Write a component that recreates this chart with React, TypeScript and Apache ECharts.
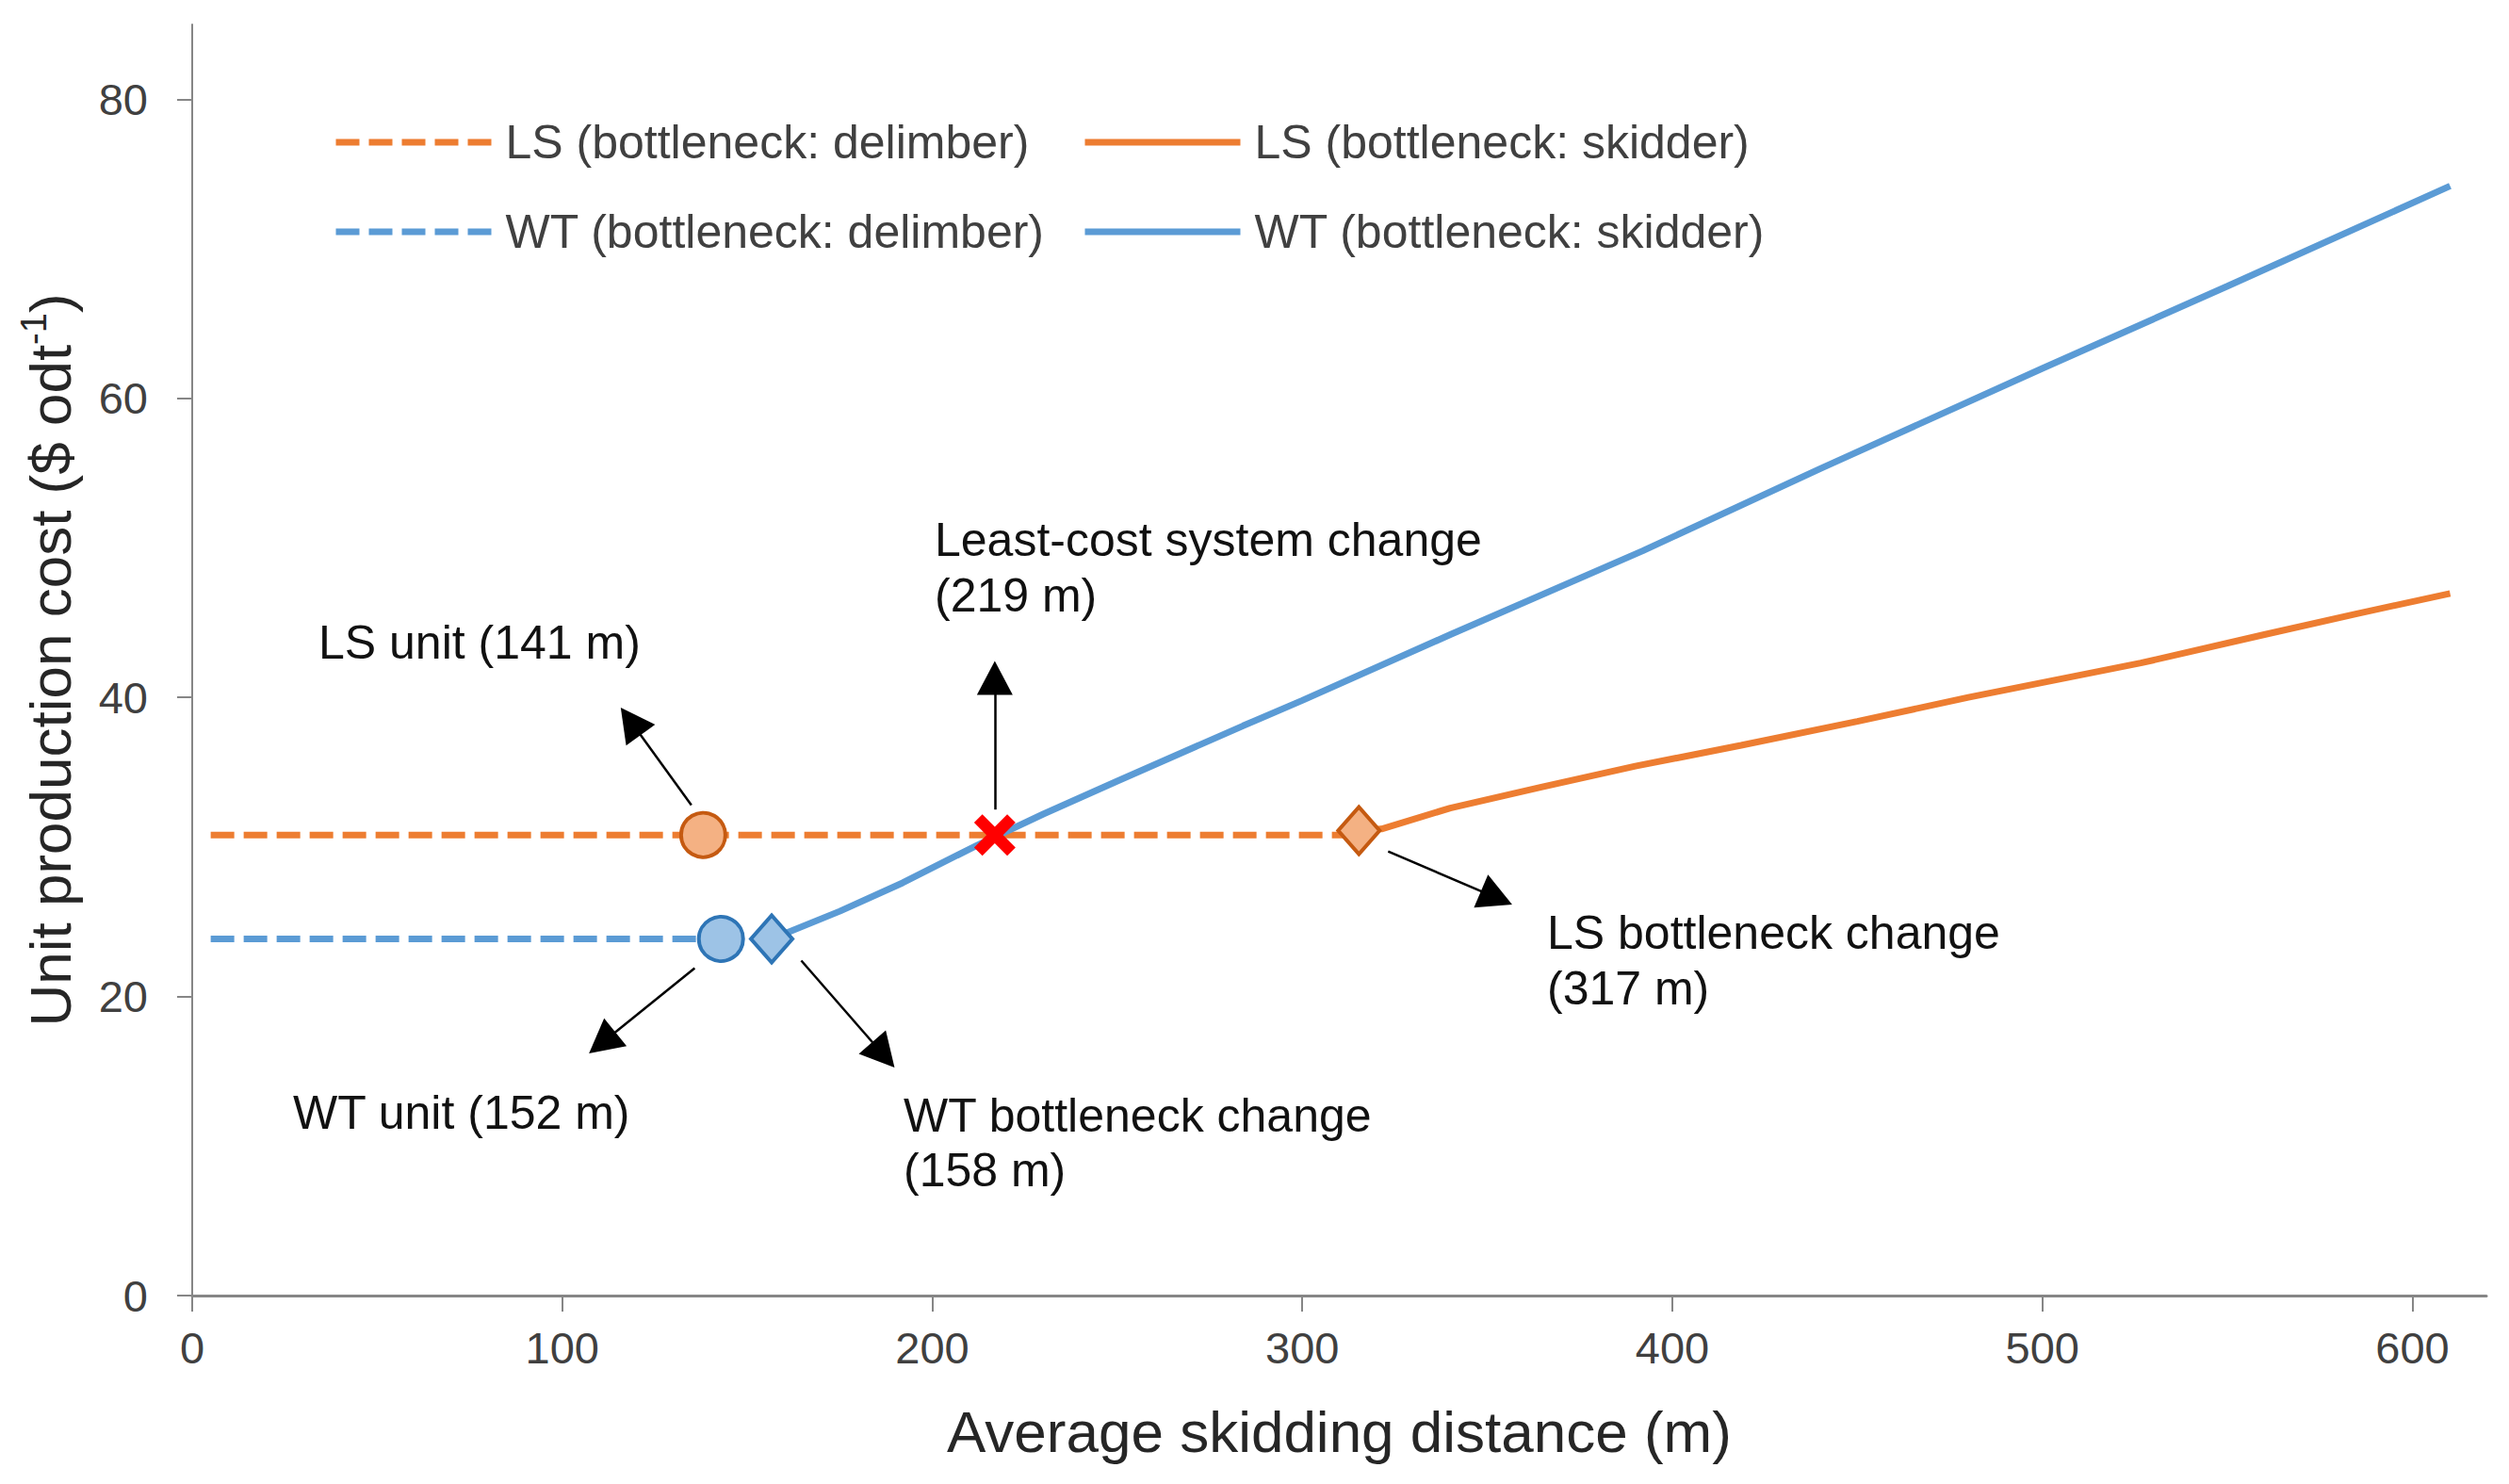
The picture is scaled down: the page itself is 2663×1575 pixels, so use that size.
import React, { useEffect, useRef } from "react";
import * as echarts from "echarts";

const FONT = "'Liberation Sans', Arial, sans-serif";

const xTicks = [0, 100, 200, 300, 400, 500, 600];
const yTicks = [0, 20, 40, 60, 80];

const seriesNames = [
  "LS (bottleneck: delimber)",
  "LS (bottleneck: skidder)",
  "WT (bottleneck: delimber)",
  "WT (bottleneck: skidder)",
];

const lsDelimber = [
  [5, 30.8],
  [315.3, 30.8],
];
const lsSkidder = [
  [315.3, 31.1],
  [321.4, 31.2],
  [340, 32.6],
  [364.6, 34.0],
  [390, 35.4],
  [418.6, 36.8],
  [450, 38.4],
  [480, 40.0],
  [526.6, 42.3],
  [560, 44.2],
  [585, 45.6],
  [610.2, 46.95],
];
const wtDelimber = [
  [5, 23.85],
  [142.9, 23.85],
];
const wtSkidder = [
  [156.6, 23.85],
  [175, 25.7],
  [192, 27.6],
  [212, 30.1],
  [230, 32.2],
  [250, 34.4],
  [284, 38.1],
  [300, 39.8],
  [340, 44.2],
  [392, 49.8],
  [440, 55.3],
  [500, 62.0],
  [550, 67.5],
  [610.2, 74.2],
];

// key points: [x, y]
const lsUnit = [138.1, 30.8];
const wtUnit = [142.9, 23.85];
const wtBottleneck = [156.6, 23.85];
const lsBottleneck = [315.3, 31.1];
const leastCost = [216.9, 30.8];

// arrows: [fromX, fromY, toX, toY] in data units
const arrows = [
  [134.9, 32.8, 118.5, 38.4],
  [216.9, 32.5, 216.9, 41.3],
  [323.2, 29.7, 352.5, 26.6],
  [135.8, 21.9, 110.8, 16.9],
  [164.6, 22.4, 186.8, 16.1],
];

const annotationTexts = [
  "Least-cost system change",
  "(219 m)",
  "LS unit (141 m)",
  "LS bottleneck change",
  "(317 m)",
  "WT unit (152 m)",
  "WT bottleneck change",
  "(158 m)",
];
const annotationPos = [
  [992, 573],
  [992, 632],
  [338, 682],
  [1642, 990],
  [1642, 1049],
  [311, 1181],
  [959, 1184],
  [959, 1242],
];

const ORANGE = "#ED7D31";
const BLUE = "#5B9BD5";
const X_PATH =
  "path://M0,4 L4,0 L10,6 L16,0 L20,4 L14,10 L20,16 L16,20 L10,14 L4,20 L0,16 L6,10 Z";

export default function App() {
  const ref = useRef<HTMLDivElement>(null);

  useEffect(() => {
    document.body.style.margin = "0";
    if (!ref.current) return;
    const chart = echarts.init(ref.current, null, { renderer: "svg" });

    const legendCommon = {
      orient: "horizontal",
      padding: 0,
      itemWidth: 165,
      itemHeight: 14,
      selectedMode: false,
      itemStyle: { opacity: 0 },
      lineStyle: { width: 7 },
      textStyle: {
        fontSize: 50,
        color: "#404040",
        fontFamily: FONT,
        lineHeight: 56,
        padding: [0, 0, 0, 10],
      },
    };
    const legendPos = [
      [353, 123],
      [1148, 123],
      [353, 218],
      [1148, 218],
    ];

    const option: any = {
      animation: false,
      grid: { left: 204, right: 24, top: 26, bottom: 200, containLabel: false },
      legend: seriesNames.map((n, i) => ({
        ...legendCommon,
        data: [n],
        left: legendPos[i][0],
        top: legendPos[i][1],
      })),
      xAxis: {
        type: "value",
        min: 0,
        max: 620,
        interval: 100,
        name: "Average skidding distance (m)",
        nameLocation: "middle",
        nameGap: 108,
        nameTextStyle: { fontSize: 62, color: "#262626", fontFamily: FONT, lineHeight: 72 },
        axisLine: { show: true, lineStyle: { color: "#868686", width: 3 } },
        axisTick: {
          show: true,
          length: 17,
          customValues: xTicks,
          lineStyle: { color: "#868686", width: 2 },
        },
        axisLabel: {
          customValues: xTicks,
          fontSize: 47,
          color: "#404040",
          fontFamily: FONT,
          margin: 32,
        },
        splitLine: { show: false },
      },
      yAxis: {
        type: "value",
        min: 0,
        max: 85,
        interval: 20,
        name: "{a|Unit production cost ($ odt}{b|-1}{a|)}",
        nameLocation: "middle",
        nameRotate: 90,
        nameGap: 115,
        nameTextStyle: {
          color: "#262626",
          fontFamily: FONT,
          rich: {
            a: { fontSize: 62, lineHeight: 72, color: "#262626", fontFamily: FONT },
            b: {
              fontSize: 38,
              lineHeight: 56,
              verticalAlign: "top",
              color: "#262626",
              fontFamily: FONT,
            },
          },
        },
        axisLine: { show: true, lineStyle: { color: "#868686", width: 2 } },
        axisTick: {
          show: true,
          length: 16,
          customValues: yTicks,
          lineStyle: { color: "#868686", width: 2 },
        },
        axisLabel: {
          customValues: yTicks,
          fontSize: 47,
          color: "#404040",
          fontFamily: FONT,
          margin: 47,
        },
        splitLine: { show: false },
      },
      series: [
        {
          name: seriesNames[0],
          type: "line",
          data: lsDelimber,
          symbol: "none",
          lineStyle: { color: ORANGE, width: 7, type: [25, 10] },
          itemStyle: { color: ORANGE },
          z: 2,
        },
        {
          name: seriesNames[1],
          type: "line",
          data: lsSkidder,
          symbol: "none",
          lineStyle: { color: ORANGE, width: 7 },
          itemStyle: { color: ORANGE },
          z: 2,
        },
        {
          name: seriesNames[2],
          type: "line",
          data: wtDelimber,
          symbol: "none",
          lineStyle: { color: BLUE, width: 7, type: [25, 10] },
          itemStyle: { color: BLUE },
          z: 2,
        },
        {
          name: seriesNames[3],
          type: "line",
          data: wtSkidder,
          symbol: "none",
          lineStyle: { color: BLUE, width: 7 },
          itemStyle: { color: BLUE },
          z: 3,
        },
        {
          name: "points",
          type: "scatter",
          z: 5,
          silent: true,
          itemStyle: { opacity: 1 },
          data: [
            {
              value: lsUnit,
              symbol: "circle",
              symbolSize: 47,
              itemStyle: { color: "#F4B183", borderColor: "#C55A11", borderWidth: 4, opacity: 1 },
            },
            {
              value: wtUnit,
              symbol: "circle",
              symbolSize: 47,
              itemStyle: { color: "#9DC3E6", borderColor: "#2E75B6", borderWidth: 4, opacity: 1 },
            },
            {
              value: wtBottleneck,
              symbol: "diamond",
              symbolSize: [44, 50],
              itemStyle: { color: "#9DC3E6", borderColor: "#2E75B6", borderWidth: 4, opacity: 1 },
            },
            {
              value: lsBottleneck,
              symbol: "diamond",
              symbolSize: [44, 50],
              itemStyle: { color: "#F4B183", borderColor: "#C55A11", borderWidth: 4, opacity: 1 },
            },
            {
              value: leastCost,
              symbol: X_PATH,
              symbolSize: 44,
              itemStyle: { color: "#FF0000", opacity: 1 },
            },
          ],
          markLine: {
            silent: true,
            symbol: ["none", "triangle"],
            symbolSize: [38, 36],
            label: { show: false },
            emphasis: { disabled: true },
            lineStyle: { color: "#000000", width: 2.5, type: "solid" },
            data: arrows.map((a) => [
              { coord: [a[0], a[1]] },
              { coord: [a[2], a[3]] },
            ]),
          },
        },
      ],
      graphic: annotationTexts.map((t, i) => ({
        type: "text",
        x: annotationPos[i][0],
        y: annotationPos[i][1],
        silent: true,
        style: {
          text: t,
          fontSize: 50,
          fontFamily: FONT,
          fill: "#111111",
          align: "left",
          verticalAlign: "middle",
        },
      })),
    };

    chart.setOption(option);
    return () => chart.dispose();
  }, []);

  return <div ref={ref} style={{ width: 2663, height: 1575 }} />;
}
